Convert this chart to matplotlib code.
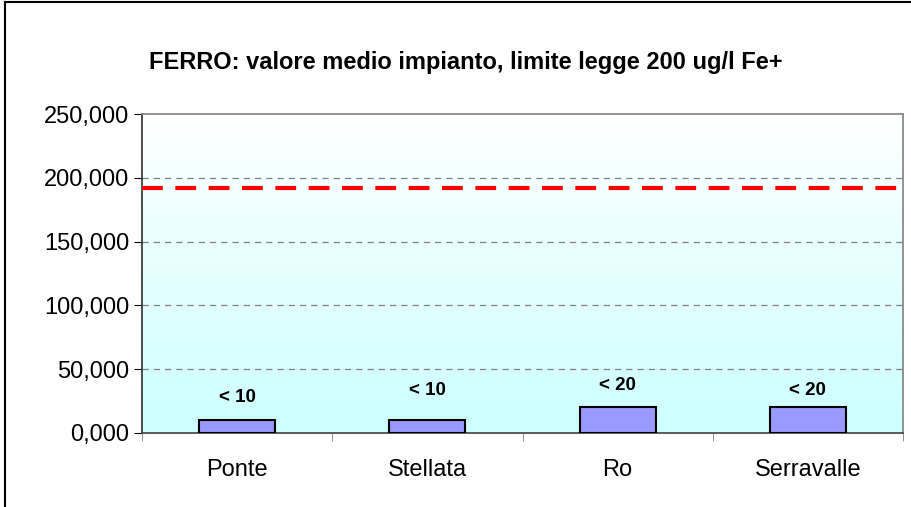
import numpy as np
import matplotlib.pyplot as plt
from matplotlib.ticker import FuncFormatter

plt.rcParams['font.family'] = ['Liberation Sans', 'DejaVu Sans']

# dati
impianti = ['Ponte', 'Stellata', 'Ro', 'Serravalle']
valori = [10, 10, 20, 20]
etichette = ['< 10', '< 10', '< 20', '< 20']
offset_etichette = [10, 15, 10, 6]   # spostamento in punti sopra la barra
limite = 192
y_ticks = [0, 50, 100, 150, 200, 250]

fig = plt.figure(figsize=(9.12, 5.07), dpi=100)
ax = fig.add_axes([142/912, 1 - 433/507, 761/912, 319/507])

# sfondo sfumato bianco -> azzurro
grad = np.linspace(0, 1, 256).reshape(-1, 1)
ax.imshow(grad, extent=[0, 1, 0, 1], transform=ax.transAxes, aspect='auto',
          cmap=plt.matplotlib.colors.LinearSegmentedColormap.from_list('g', ['#ccffff', '#ffffff']),
          origin='lower', zorder=0)

x = np.arange(len(impianti))
ax.bar(x, valori, width=0.4, color='#9999ff', edgecolor='black', linewidth=1.5, zorder=3)
for xi, v, t, off in zip(x, valori, etichette, offset_etichette):
    ax.annotate(t, (xi, v), xytext=(0, off), textcoords='offset points',
                ha='center', va='bottom', fontsize=13.5, fontweight='bold')

for yt in y_ticks[1:-1]:
    ax.axhline(yt, color='#808080', linestyle=(0, (5, 4)), linewidth=0.9, zorder=1)
ax.axhline(limite, color='red', linestyle=(0, (5, 3)), linewidth=3, zorder=4)

ax.set_xlim(-0.5, len(impianti) - 0.5)
ax.set_ylim(0, 250)
ax.set_yticks(y_ticks)
ax.yaxis.set_major_formatter(FuncFormatter(lambda v, p: f'{v:.3f}'.replace('.', ',')))
ax.set_xticks(x)
ax.set_xticklabels(impianti)
ax.set_xticks(np.arange(len(impianti) + 1) - 0.5, minor=True)
ax.tick_params(axis='x', which='major', length=0, pad=19, labelsize=17)
ax.tick_params(axis='x', which='minor', length=6, color='#808080')
ax.tick_params(axis='y', length=6, labelsize=17, pad=3)

ax.spines['left'].set_color('#303030')
ax.spines['left'].set_linewidth(1.2)
ax.spines['bottom'].set_color('#404040')
ax.spines['bottom'].set_linewidth(1.2)
ax.spines['top'].set_color('#808080')
ax.spines['top'].set_linewidth(1.2)
ax.spines['right'].set_color('#808080')
ax.spines['right'].set_linewidth(1.2)

fig.text(466/912, 1 - 62/507, 'FERRO: valore medio impianto, limite legge 200 ug/l Fe+',
         ha='center', va='center', fontsize=17, fontweight='bold')

# bordo esterno
fig.add_artist(plt.Line2D([5/912, 5/912], [0, 1 - 2/507], color='black', linewidth=1.5))
fig.add_artist(plt.Line2D([5/912, 1], [1 - 2/507, 1 - 2/507], color='black', linewidth=1.5))

fig.savefig('out.png', dpi=100)
